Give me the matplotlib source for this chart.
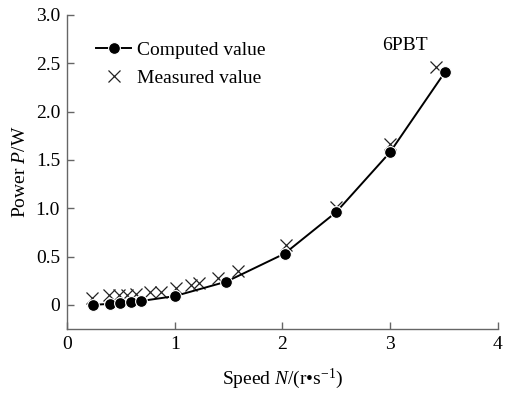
import matplotlib
matplotlib.use("Agg")
import matplotlib.pyplot as plt
from matplotlib.lines import Line2D

plt.rcParams['font.family'] = ['Liberation Serif', 'DejaVu Serif']
plt.rcParams['mathtext.fontset'] = 'custom'
plt.rcParams['mathtext.rm'] = 'Liberation Serif'
plt.rcParams['mathtext.it'] = 'Liberation Serif:italic'

# Data
computed_speed = [0.24, 0.40, 0.49, 0.59, 0.69, 1.00, 1.48, 2.02, 2.50, 3.00, 3.51]
computed_power = [0.00, 0.01, 0.02, 0.03, 0.04, 0.09, 0.24, 0.53, 0.96, 1.58, 2.41]
measured_speed = [0.23, 0.39, 0.48, 0.56, 0.64, 0.77, 0.87, 1.01, 1.15, 1.23, 1.40, 1.59, 2.03, 2.50, 3.00, 3.43]
measured_power = [0.07, 0.10, 0.10, 0.10, 0.11, 0.13, 0.13, 0.17, 0.21, 0.23, 0.28, 0.35, 0.62, 1.01, 1.66, 2.46]
x_ticks = [0, 1, 2, 3, 4]
y_ticks = [0, 0.5, 1.0, 1.5, 2.0, 2.5, 3.0]
y_tick_labels = ["0", "0.5", "1.0", "1.5", "2.0", "2.5", "3.0"]

FS = 14

fig = plt.figure(figsize=(5.05, 3.94), dpi=100)
ax = fig.add_axes([0.1327, 0.165, 0.853, 0.797])

ax.plot(measured_speed, measured_power, linestyle='none', marker='x', color='#222222',
        markersize=9, markeredgewidth=0.9, label='Measured value', zorder=2)
ax.plot(computed_speed, computed_power, color='black', linewidth=1.4, marker='o',
        markersize=8.5, markerfacecolor='black', markeredgecolor='white', markeredgewidth=0.8,
        label='Computed value', zorder=3)

ax.set_xlim(0, 4)
ax.set_ylim(-0.25, 3.0)
ax.set_xticks(x_ticks)
ax.set_yticks(y_ticks)
ax.set_yticklabels(y_tick_labels)

for s in ['top', 'right']:
    ax.spines[s].set_visible(False)
for s in ['left', 'bottom']:
    ax.spines[s].set_color('#666666')
    ax.spines[s].set_linewidth(1.0)
ax.tick_params(direction='in', length=5, width=1.0, color='#666666', labelsize=FS, pad=5)

ax.set_xlabel('Speed $\\it{N}$/(r\u2022s$^{-1}$)', fontsize=FS, labelpad=10)
ax.set_ylabel('Power $\\it{P}$/W', fontsize=FS, labelpad=5)

ax.text(2.93, 2.68, '6PBT', fontsize=FS, ha='left', va='center')

handles = [
    Line2D([], [], color='black', linewidth=1.4, marker='o', markersize=8.5,
           markerfacecolor='black', markeredgecolor='white', markeredgewidth=0.8),
    Line2D([], [], linestyle='none', marker='x', color='#222222', markersize=9, markeredgewidth=0.9),
]
ax.legend(handles, ['Computed value', 'Measured value'], loc='upper left',
          bbox_to_anchor=(0.05, 0.94), frameon=False, fontsize=FS,
          handlelength=1.8, handletextpad=0.3, labelspacing=0.5, borderaxespad=0)

fig.savefig('out.png', dpi=100)
